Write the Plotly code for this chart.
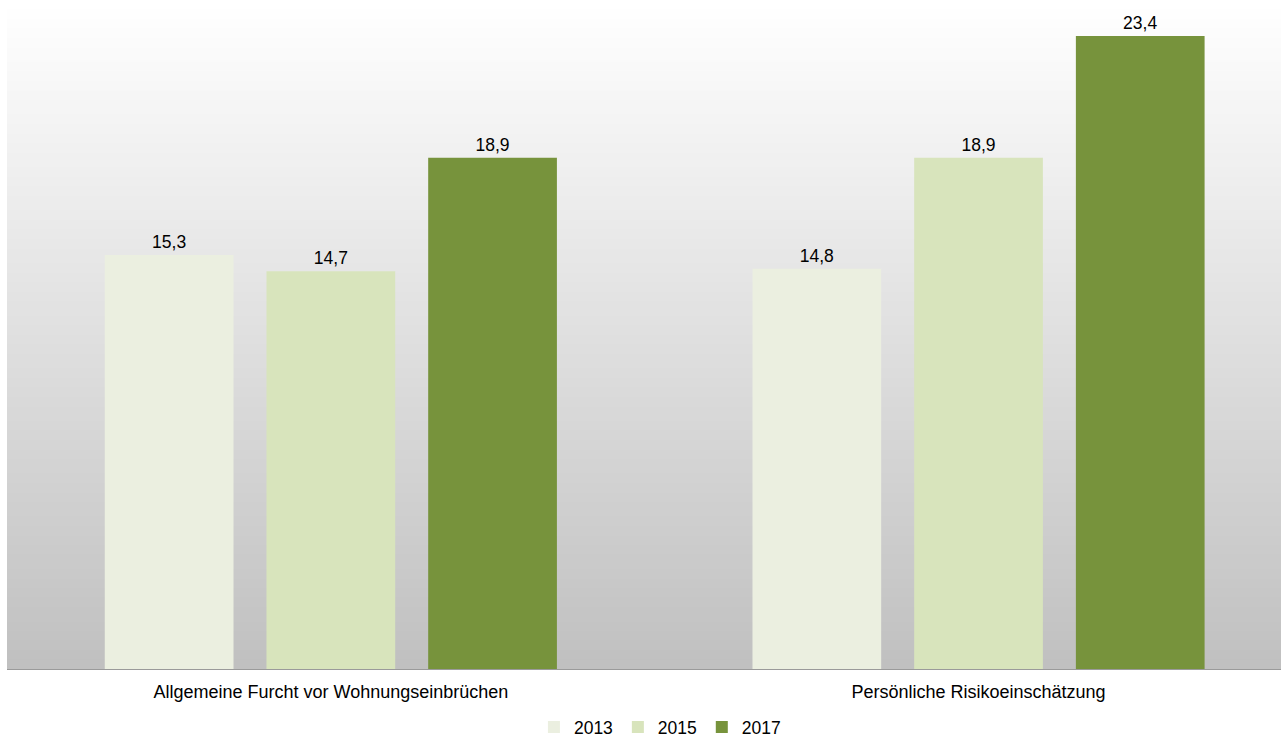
import plotly.graph_objects as go

categories = ["Allgemeine Furcht vor Wohnungseinbrüchen", "Persönliche Risikoeinschätzung"]
years = ["2013", "2015", "2017"]
values_2013 = [15.3, 14.8]
values_2015 = [14.7, 18.9]
values_2017 = [18.9, 23.4]
colors = ["#ebefe0", "#d8e4bc", "#77933c"]

FONT = "Liberation Sans, Arial, sans-serif"

fig = go.Figure()
for name, vals, col in zip(years, [values_2013, values_2015, values_2017], colors):
    fig.add_trace(go.Bar(
        x=categories, y=vals, name=name, marker=dict(color=col, line=dict(width=0)),
        texttemplate="%{y:.1f}", textposition="outside", cliponaxis=False,
        textfont=dict(size=17.5, color="#000000", family=FONT),
        hoverinfo="skip",
    ))

# vertical gradient background (white -> light gray), overlapping bands to avoid seams
n = 140
shapes = []
for i in range(n):
    t = i / (n - 1)
    v = int(round(255 - (255 - 192) * t))
    shapes.append(dict(type="rect", xref="paper", yref="paper",
                       x0=0, x1=1, y0=max(0, 1 - (i + 1) / n - 0.004), y1=1 - i / n,
                       fillcolor=f"rgb({v},{v},{v})", line=dict(width=0), layer="below"))

fig.update_layout(
    width=1281, height=737,
    margin=dict(l=7, r=0, t=0, b=68, autoexpand=False),
    paper_bgcolor="#ffffff", plot_bgcolor="rgba(0,0,0,0)",
    shapes=shapes,
    separators=",.",
    barmode="group", bargap=0.251, bargroupgap=0.204,
    font=dict(family=FONT, size=17.5, color="#000000"),
    xaxis=dict(range=[-0.5, 1.467], showgrid=False, showline=True, linecolor="#9a9a9a",
               linewidth=1, ticks="", tickfont=dict(size=18), automargin=False,
               ticklabelstandoff=6),
    yaxis=dict(range=[0, 24.73], visible=False, showgrid=False, zeroline=False, automargin=False),
    legend=dict(orientation="h", x=0.5125, xanchor="center", y=-0.087, yanchor="middle",
                font=dict(size=17.5), itemwidth=30, traceorder="normal"),
    showlegend=True,
)

fig.write_html("out.html", config={"displayModeBar": False},
               post_script="document.body.style.margin='0';document.body.style.overflow='hidden';")
